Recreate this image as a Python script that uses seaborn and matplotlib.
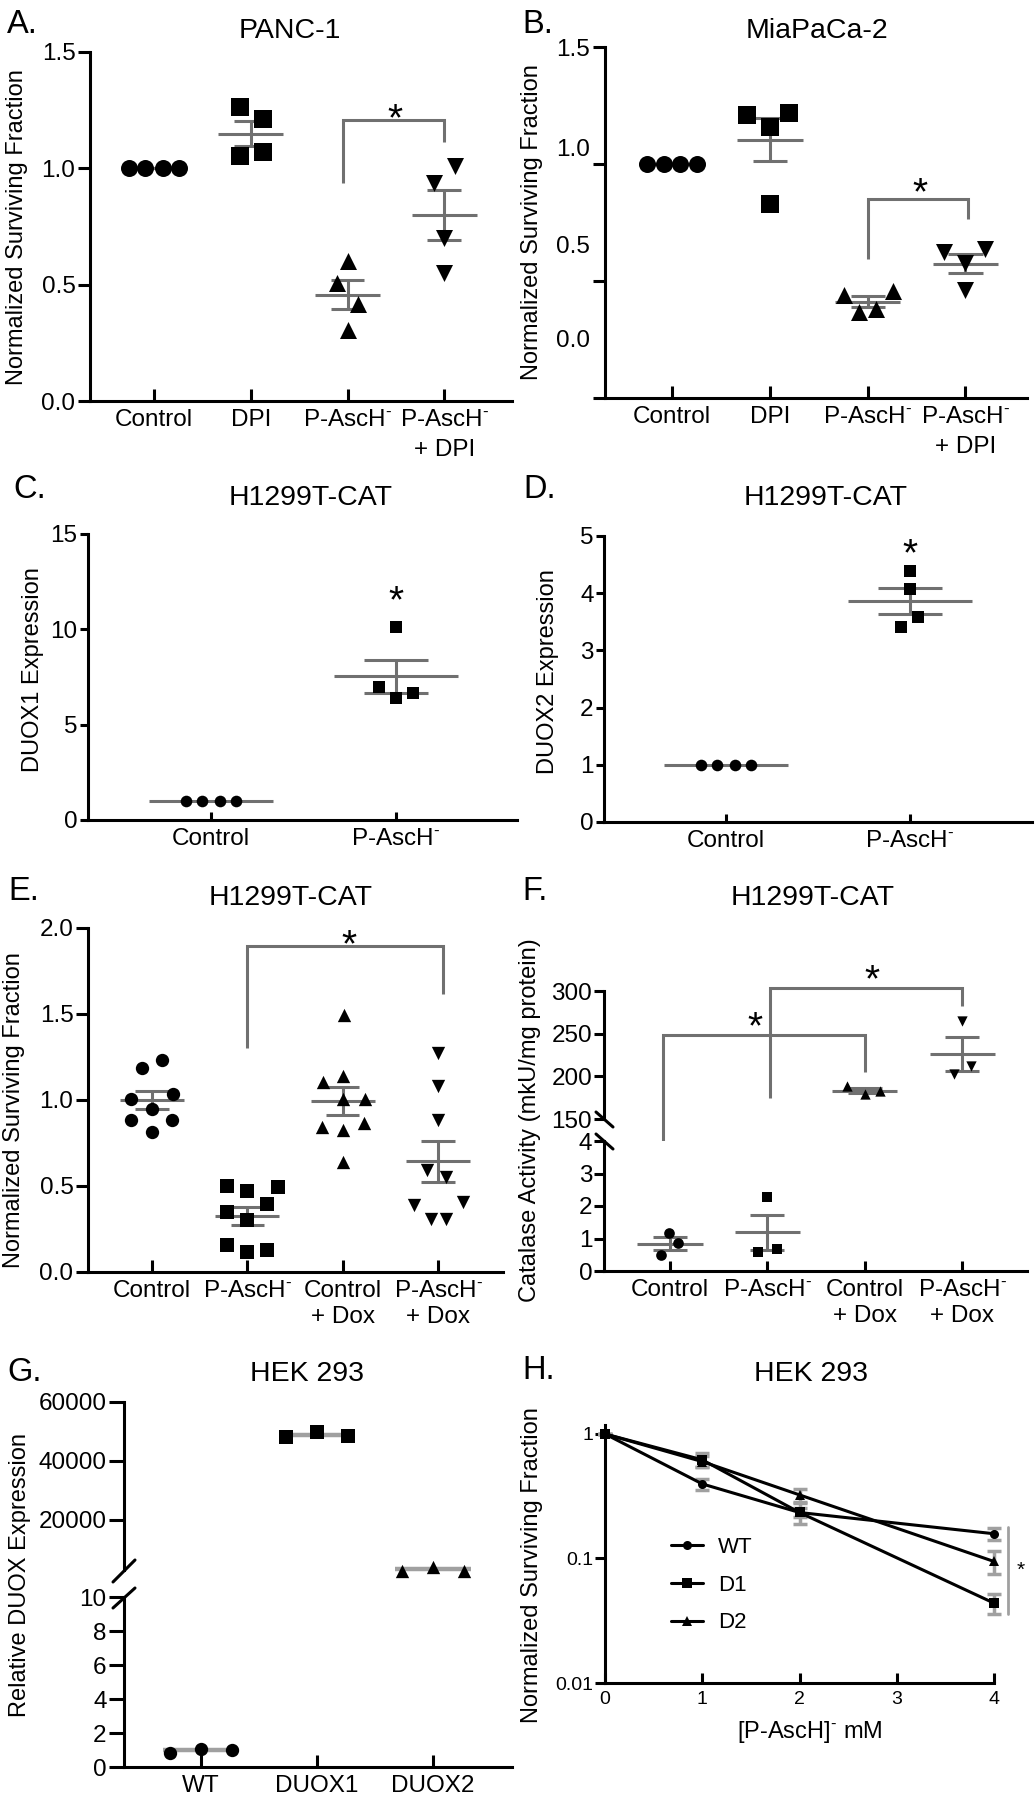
import matplotlib
matplotlib.use('Agg')
import matplotlib.pyplot as plt
from matplotlib.lines import Line2D
from matplotlib.ticker import FormatStrFormatter
from matplotlib.transforms import offset_copy
import numpy as np
import pandas as pd
import seaborn as sns

sns.set_theme(style='ticks', rc={'axes.edgecolor': 'black', 'xtick.color': 'black',
                                 'ytick.color': 'black', 'text.color': 'black'})
plt.rcParams['font.family'] = ['Liberation Sans', 'DejaVu Sans']
plt.rcParams['mathtext.fontset'] = 'custom'
plt.rcParams['mathtext.rm'] = 'Liberation Sans'
plt.rcParams['mathtext.it'] = 'Liberation Sans:italic'
plt.rcParams['mathtext.bf'] = 'Liberation Sans:bold'

GRAY = '#707070'
LIGHT = '#a0a0a0'
SUP = r'$^{\text{-}}$'
ASC = 'P-AscH' + SUP

# %% data
# A. PANC-1
a_labels = ['Control', 'DPI', ASC, ASC + '\n+ DPI']
a_ctrl = [1.00, 1.00, 1.00, 1.00]
a_dpi = [1.263, 1.212, 1.053, 1.070]
a_asc = [0.600, 0.507, 0.417, 0.305]
a_asc_dpi = [1.010, 0.937, 0.700, 0.550]

# B. MiaPaCa-2 (tick labels sit off their ticks in the original)
b_labels = a_labels
b_ctrl = [1.00, 1.00, 1.00, 1.00]
b_dpi = [1.210, 1.217, 1.160, 0.828]
b_asc = [0.440, 0.459, 0.369, 0.379]
b_asc_dpi = [0.625, 0.635, 0.575, 0.462]
b_ytick_text = ['0.0', '0.5', '1.0', '1.5']
b_ytick_at = [0.256, 0.657, 1.069, 1.5]

# C / D. H1299T-CAT DUOX expression
cd_labels = ['Control', ASC]
c_ctrl = [1.0, 1.0, 1.0, 1.0]
c_asc = [10.12, 6.97, 6.40, 6.66]
d_ctrl = [1.0, 1.0, 1.0, 1.0]
d_asc = [4.39, 4.07, 3.58, 3.41]

# E. H1299T-CAT surviving fraction
ef_labels = ['Control', ASC, 'Control\n+ Dox', ASC + '\n+ Dox']
e_ctrl = [1.185, 1.234, 1.008, 1.037, 0.950, 0.882, 0.882, 0.814]
e_asc = [0.498, 0.469, 0.494, 0.397, 0.349, 0.304, 0.155, 0.116, 0.130]
e_ctrl_dox = [1.492, 1.105, 1.138, 1.008, 1.008, 0.843, 0.828, 0.866, 0.640]
e_asc_dox = [1.273, 1.079, 0.882, 0.591, 0.552, 0.388, 0.407, 0.310, 0.310]

# F. catalase activity
f_ctrl = [1.18, 0.874, 0.483]
f_asc = [2.28, 0.586, 0.689]
f_ctrl_dox = [188.3, 178.9, 182.8]
f_asc_dox = [264.8, 202.3, 211.7]

# G. HEK 293 DUOX expression
g_labels = ['WT', 'DUOX1', 'DUOX2']
g_wt = [0.84, 1.08, 1.02]
g_duox1 = [48140, 49830, 48480]
g_duox2 = [2820, 4170, 2820]

# H. HEK 293 dose response
h_dose = [0, 1, 2, 4]
h_wt = [1.0, 0.397, 0.234, 0.158]
h_wt_sem = [0.0, 0.04, 0.02, 0.017]
h_d1 = [1.0, 0.62, 0.234, 0.0438]
h_d1_sem = [0.0, 0.08, 0.045, 0.008]
h_d2 = [1.0, 0.60, 0.324, 0.0946]
h_d2_sem = [0.0, 0.06, 0.04, 0.02]

# %% layout helpers (pixel boxes on a 1035x1800 canvas)
FW, FH = 1035, 1800
fig = plt.figure(figsize=(FW / 100, FH / 100), dpi=100)


def make_ax(x0, y0, x1, y1):
    return fig.add_axes([x0 / FW, 1 - y1 / FH, (x1 - x0) / FW, (y1 - y0) / FH])


def fig_text(x, y, s, **kw):
    return fig.text(x / FW, 1 - y / FH, s, **kw)


def fig_line(xs, ys, **kw):
    fig.add_artist(Line2D(np.array(xs) / FW, 1 - np.array(ys) / FH,
                          transform=fig.transFigure, **kw))


def style(ax, xlen=9, ylen=9, size=17.5):
    sns.despine(ax=ax)
    ax.grid(False)
    ax.spines['left'].set_linewidth(2.2)
    ax.spines['bottom'].set_linewidth(2.2)
    ax.tick_params(axis='x', direction='in', length=xlen, width=2.2, labelsize=size, pad=6)
    ax.tick_params(axis='y', direction='out', length=ylen, width=2.2, labelsize=size, pad=1.5)
    ax.set_xlabel('')
    ax.set_ylabel('')


def dots(ax, groups, jitter, markers, size, positions=None):
    positions = range(len(groups)) if positions is None else positions
    for i, vals, jit, mk in zip(positions, groups, jitter, markers):
        df = pd.DataFrame({'x': i + np.asarray(jit), 'y': vals})
        sns.scatterplot(data=df, x='x', y='y', marker=mk, s=size, color='black',
                        linewidth=0, ax=ax, zorder=3, clip_on=False, legend=False)


def mean_sem(ax, groups, positions=None, lw=2.2):
    positions = range(len(groups)) if positions is None else positions
    for i, vals in zip(positions, groups):
        v = np.asarray(vals, float)
        m = v.mean()
        se = v.std(ddof=1) / np.sqrt(len(v))
        ax.hlines(m, i - 0.335, i + 0.335, color=GRAY, lw=lw, zorder=2)
        if se > 1e-9:
            ax.hlines([m - se, m + se], i - 0.175, i + 0.175, color=GRAY, lw=lw, zorder=2)
            ax.vlines(i, m - se, m + se, color=GRAY, lw=lw, zorder=2)


def star(ax, x, y, fs=28):
    tr = offset_copy(ax.transData, fig=fig, y=-0.58 * fs, units='points')
    ax.text(x, y, '*', ha='center', va='baseline', fontsize=fs, transform=tr, clip_on=False)


def bracket(ax, x1, x2, top, y1, y2, sx, sy):
    ax.plot([x1, x1, x2, x2], [y1, top, top, y2], color=GRAY, lw=2.2,
            clip_on=False, solid_joinstyle='miter', solid_capstyle='butt')
    star(ax, sx, sy)


def head(xl, yl, letter, xt, yt, title):
    fig_text(xl, yl, letter, fontsize=23.5, ha='left', va='baseline')
    fig_text(xt, yt, title, fontsize=20.5, ha='center', va='baseline')


def ylab(x, y, s, size=17):
    fig_text(x, y, s, fontsize=size, rotation=90, ha='center', va='center')


four = ['o', 's', '^', 'v']

# %% A
ax = make_ax(90, 52, 512, 401)
dots(ax, [a_ctrl, a_dpi, a_asc, a_asc_dpi],
     [[-0.26, -0.09, 0.09, 0.26], [-0.11, 0.13, -0.11, 0.13], [0, -0.11, 0.11, 0], [0.11, -0.11, 0, 0]],
     four, 150)
mean_sem(ax, [a_ctrl, a_dpi, a_asc, a_asc_dpi])
bracket(ax, 1.955, 3, 1.208, 0.937, 1.113, 2.49, 1.26)
ax.set_xlim(-0.662, 3.70)
ax.set_ylim(0, 1.5)
ax.set_yticks([0, 0.5, 1.0, 1.5])
ax.yaxis.set_major_formatter(FormatStrFormatter('%.1f'))
ax.set_xticks(range(4), a_labels)
style(ax, 9, 9)
for t in ax.get_xticklabels():
    t.set_linespacing(1.45)
head(7, 33, 'A.', 290, 38, 'PANC-1')
ylab(17, 227, 'Normalized Surviving Fraction')

# %% B
ax = make_ax(605, 47, 1027, 398)
dots(ax, [b_ctrl, b_dpi, b_asc, b_asc_dpi],
     [[-0.26, -0.085, 0.085, 0.26], [-0.23, 0.20, 0, 0], [-0.24, 0.26, -0.085, 0.085], [-0.22, 0.20, 0, 0]],
     four, 150)
mean_sem(ax, [b_ctrl, b_dpi, b_asc, b_asc_dpi])
bracket(ax, 2, 3.03, 0.849, 0.592, 0.763, 2.54, 0.923)
ax.set_xlim(-0.686, 3.63)
ax.set_ylim(0, 1.5)
ax.yaxis.remove_overlapping_locs = False
ax.set_yticks([0, 0.5, 1.0, 1.5], ['', '', '', ''])
ax.set_yticks(b_ytick_at, b_ytick_text, minor=True)
ax.set_xticks(range(4), b_labels)
style(ax, 9, 9)
ax.tick_params(axis='y', which='minor', length=0, pad=10.8, labelsize=17.5)
for t in ax.get_xticklabels():
    t.set_linespacing(1.45)
head(522, 33, 'B.', 817, 38, 'MiaPaCa-2')
ylab(532, 222, 'Normalized Surviving Fraction')

# %% C
ax = make_ax(88, 534, 517, 820)
dots(ax, [c_ctrl, c_asc], [[-0.135, -0.047, 0.047, 0.135], [0, -0.094, 0, 0.09]], ['o', 's'], 70)
mean_sem(ax, [c_ctrl, c_asc])
star(ax, 1, 12.06)
ax.set_xlim(-0.665, 1.654)
ax.set_ylim(0, 15)
ax.set_yticks([0, 5, 10, 15])
ax.set_xticks(range(2), cd_labels)
style(ax, 6, 6)
head(13, 498, 'C.', 311, 505, 'H1299T-CAT')
ylab(33, 670, 'DUOX1 Expression')

# %% D
ax = make_ax(604, 536, 1032, 822)
dots(ax, [d_ctrl, d_asc], [[-0.135, -0.047, 0.047, 0.135], [0, 0, 0.046, -0.049]], ['o', 's'], 70)
mean_sem(ax, [d_ctrl, d_asc])
star(ax, 1, 4.88)
ax.set_xlim(-0.663, 1.663)
ax.set_ylim(0, 5)
ax.set_yticks(range(6))
ax.set_xticks(range(2), cd_labels)
style(ax, 6, 6)
head(523, 498, 'D.', 826, 505, 'H1299T-CAT')
ylab(548, 672, 'DUOX2 Expression')

# %% E
ax = make_ax(88, 928, 503, 1272)
dots(ax, [e_ctrl, e_asc, e_ctrl_dox, e_asc_dox],
     [[-0.11, 0.105, -0.217, 0.22, 0, -0.217, 0.213, 0],
      [-0.217, 0, 0.325, 0.21, -0.217, 0, -0.217, 0, 0.21],
      [0.01, -0.207, 0, 0, 0.231, -0.217, 0, 0.22, 0],
      [0, 0, 0, -0.115, 0.084, -0.255, 0.262, -0.08, 0.084]],
     four, 92)
mean_sem(ax, [e_ctrl, e_asc, e_ctrl_dox, e_asc_dox])
bracket(ax, 1, 3.05, 1.893, 1.304, 1.618, 2.06, 1.967)
ax.set_xlim(-0.672, 3.68)
ax.set_ylim(0, 2)
ax.set_yticks([0, 0.5, 1.0, 1.5, 2.0])
ax.yaxis.set_major_formatter(FormatStrFormatter('%.1f'))
ax.set_xticks(range(4), ef_labels)
style(ax, 9, 9)
head(8, 900, 'E.', 291, 905, 'H1299T-CAT')
ylab(14, 1110, 'Normalized Surviving Fraction')

# %% F (broken y axis)
fu = make_ax(604, 991, 1027, 1119)
fl = make_ax(604, 1141, 1027, 1271)
dots(fl, [f_ctrl, f_asc], [[-0.01, 0.086, -0.096], [0, -0.092, 0.096]], ['o', 's'], 59)
mean_sem(fl, [f_ctrl, f_asc])
dots(fu, [f_ctrl_dox, f_asc_dox], [[-0.18, 0, 0.16], [0, -0.086, 0.086]], ['^', 'v'], 55,
     positions=[2, 3])
mean_sem(fu, [f_ctrl_dox, f_asc_dox], positions=[2, 3])
bracket(fu, -0.07, 2, 248.4, 119.6, 205.1, 0.87, 271.5)
bracket(fu, 1.03, 3, 303.9, 174.2, 282.0, 2.07, 326)
for a in (fu, fl):
    a.set_xlim(-0.678, 3.665)
fu.set_ylim(150, 300)
fu.set_yticks([150, 200, 250, 300])
fl.set_ylim(0, 4)
fl.set_yticks(range(5))
fl.set_xticks(range(4), ef_labels)
style(fl, 7, 7)
style(fu, 7, 7)
fu.spines['bottom'].set_visible(False)
fu.set_xticks([])
fig_line([596, 613], [1112, 1127], color='black', lw=2.2)
fig_line([596, 613], [1134, 1149], color='black', lw=2.2)
head(522, 900, 'F.', 813, 905, 'H1299T-CAT')
ylab(530, 1120, 'Catalase Activity (mkU/mg protein)')

# %% G (broken y axis)
gu = make_ax(124, 1402, 512, 1570)
gl = make_ax(124, 1597, 512, 1767)
for a, grp, pos, mk, sz in [(gl, g_wt, 0, 'o', 92), (gu, g_duox1, 1, 's', 106), (gu, g_duox2, 2, '^', 92)]:
    a.hlines(np.mean(grp), pos - 0.33, pos + 0.33, color=LIGHT, lw=3.2, zorder=2, clip_on=False)
    dots(a, [grp], [[-0.27, 0, 0.27]], [mk], sz, positions=[pos])
for a in (gu, gl):
    a.set_xlim(-0.664, 2.68)
gu.set_ylim(3000, 60000)
gu.set_yticks([20000, 40000, 60000])
gl.set_ylim(0, 10)
gl.set_yticks([0, 2, 4, 6, 8, 10])
gl.set_xticks(range(3), g_labels)
style(gl, 9, 11)
style(gu, 9, 11)
gu.spines['bottom'].set_visible(False)
gu.set_xticks([])
fig_line([113, 135], [1582, 1560], color='black', lw=2.2)
fig_line([113, 135], [1608, 1588], color='black', lw=2.2)
head(7, 1381, 'G.', 307, 1381, 'HEK 293')
ylab(20, 1575, 'Relative DUOX Expression')

# %% H
ax = make_ax(605, 1425, 994, 1683)
for lab, ys, se, mk in [('WT', h_wt, h_wt_sem, 'o'), ('D1', h_d1, h_d1_sem, 's'), ('D2', h_d2, h_d2_sem, '^')]:
    ax.errorbar(h_dose, ys, yerr=se, fmt='none', ecolor=LIGHT, elinewidth=2.5,
                capsize=5, capthick=2.5, zorder=2, clip_on=False)
    sns.lineplot(x=h_dose, y=ys, marker=mk, markersize=6.5, color='black', lw=2.2,
                 markeredgewidth=0, label=lab, ax=ax, zorder=3, clip_on=False)
ax.set_yscale('log')
ax.set_ylim(0.01, 1.18)
ax.set_xlim(0, 4)
ax.set_yticks([0.01, 0.1, 1], ['0.01', '0.1', '1'])
ax.minorticks_off()
ax.set_xticks(range(5))
style(ax, 7, 7, size=14)
ax.plot([4.14, 4.14], [0.178, 0.036], color=LIGHT, lw=2, clip_on=False)
ax.text(4.27, 0.081, '*', fontsize=15, ha='center', va='center', clip_on=False)
ax.legend(loc='upper left', bbox_to_anchor=(0.148, 0.60), frameon=False, fontsize=16,
          handlelength=1.4, handletextpad=0.7, labelspacing=0.75, borderaxespad=0)
head(522, 1379, 'H.', 811, 1381, 'HEK 293')
ylab(532, 1565, 'Normalized Surviving Fraction')
fig_text(810, 1738, '[P-AscH]' + SUP + ' mM', fontsize=17, ha='center', va='baseline')

fig.savefig('out.png', dpi=100)
